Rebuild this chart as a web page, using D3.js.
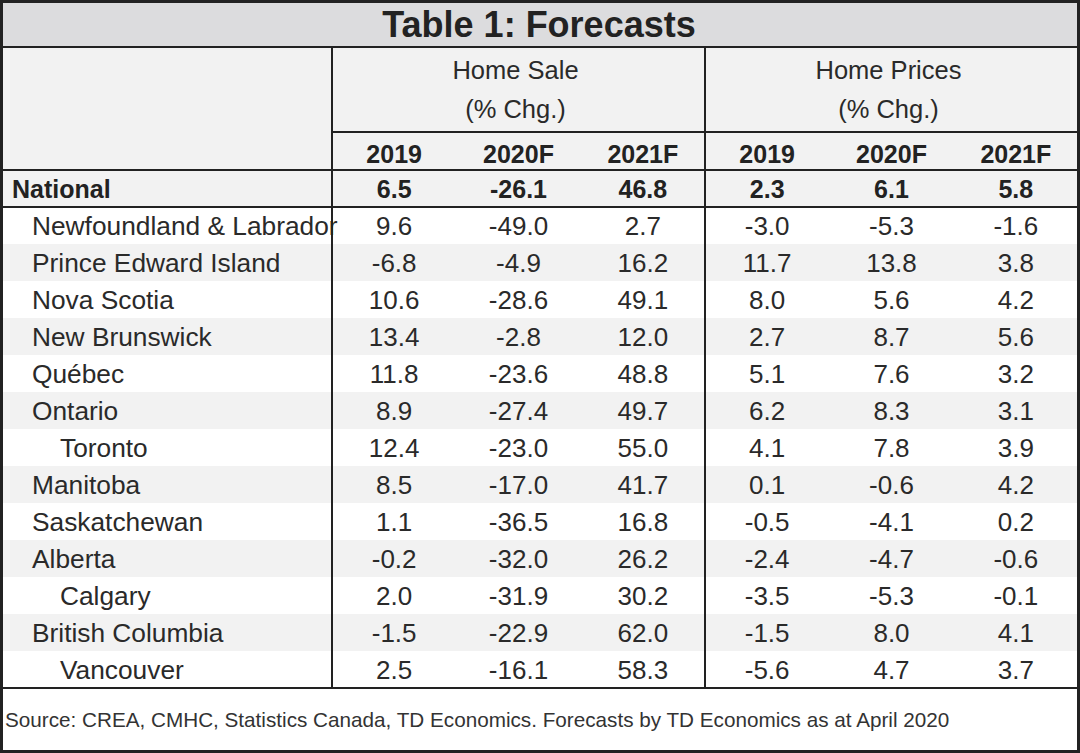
<!DOCTYPE html>
<html>
<head>
<meta charset="utf-8">
<script src="https://cdn.jsdelivr.net/npm/d3@7"></script>
<style>
  html, body { margin: 0; padding: 0; background: #fff; }
  svg { display: block; }
  text { font-family: "Liberation Sans", Arial, sans-serif; }
</style>
</head>
<body>
<svg width="1080" height="753"></svg>
<script>
// table content
const title = "Table 1: Forecasts";
const groups = ["Home Sale", "Home Prices"];
const groupSub = "(% Chg.)";
const years = ["2019", "2020F", "2021F"];
const regions = ["National", "Newfoundland & Labrador", "Prince Edward Island", "Nova Scotia",
  "New Brunswick", "Québec", "Ontario", "Toronto", "Manitoba", "Saskatchewan", "Alberta",
  "Calgary", "British Columbia", "Vancouver"];
const indent = [0, 1, 1, 1, 1, 1, 1, 2, 1, 1, 1, 2, 1, 2];
const sale2019 = ["6.5", "9.6", "-6.8", "10.6", "13.4", "11.8", "8.9", "12.4", "8.5", "1.1", "-0.2", "2.0", "-1.5", "2.5"];
const sale2020 = ["-26.1", "-49.0", "-4.9", "-28.6", "-2.8", "-23.6", "-27.4", "-23.0", "-17.0", "-36.5", "-32.0", "-31.9", "-22.9", "-16.1"];
const sale2021 = ["46.8", "2.7", "16.2", "49.1", "12.0", "48.8", "49.7", "55.0", "41.7", "16.8", "26.2", "30.2", "62.0", "58.3"];
const price2019 = ["2.3", "-3.0", "11.7", "8.0", "2.7", "5.1", "6.2", "4.1", "0.1", "-0.5", "-2.4", "-3.5", "-1.5", "-5.6"];
const price2020 = ["6.1", "-5.3", "13.8", "5.6", "8.7", "7.6", "8.3", "7.8", "-0.6", "-4.1", "-4.7", "-5.3", "8.0", "4.7"];
const price2021 = ["5.8", "-1.6", "3.8", "4.2", "5.6", "3.2", "3.1", "3.9", "4.2", "0.2", "-0.6", "-0.1", "4.1", "3.7"];
const source = "Source: CREA, CMHC, Statistics Canada, TD Economics. Forecasts by TD Economics as at April 2020";

const columns = [sale2019, sale2020, sale2021, price2019, price2020, price2021];
const colKeys = d3.range(columns.length);

const svg = d3.select("svg");
const W = 1080, H = 753;
const lineColor = "#222";
const textColor = "#2a2a2a";

const titleBottom = 47;
const subHeadLine = 132;
const bodyTop = 170;
const bodyBottom = 688;
const labelRight = 332;
const tableRight = 1078;

const y = d3.scaleBand().domain(d3.range(regions.length)).range([bodyTop, bodyBottom]);
const x = d3.scaleBand().domain(colKeys).range([labelRight, tableRight]);
const groupX = d3.scaleBand().domain(d3.range(groups.length)).range([labelRight, tableRight]);

// backgrounds
svg.append("rect").attr("x", 0).attr("y", 0).attr("width", W).attr("height", titleBottom).attr("fill", "#dcdcde");
svg.append("rect").attr("x", 0).attr("y", titleBottom).attr("width", W).attr("height", bodyTop - titleBottom).attr("fill", "#f2f2f2");

svg.append("g").selectAll("rect")
  .data(regions)
  .join("rect")
  .attr("x", 0)
  .attr("y", (d, i) => y(i))
  .attr("width", W)
  .attr("height", y.bandwidth())
  .attr("fill", (d, i) => (i % 2 === 0 ? "#f2f2f2" : "#ffffff"));

// title
svg.append("text")
  .attr("x", W / 2 - 1).attr("y", 37)
  .attr("text-anchor", "middle")
  .attr("font-size", 36).attr("font-weight", "bold")
  .attr("fill", "#222")
  .text(title);

// group headers
const gh = svg.append("g").selectAll("g").data(groups).join("g");
gh.append("text")
  .attr("x", (d, i) => groupX(i) + groupX.bandwidth() / 2 - 3)
  .attr("y", 79)
  .attr("text-anchor", "middle").attr("font-size", 25.5).attr("fill", textColor)
  .text(d => d);
gh.append("text")
  .attr("x", (d, i) => groupX(i) + groupX.bandwidth() / 2 - 3)
  .attr("y", 118)
  .attr("text-anchor", "middle").attr("font-size", 25.5).attr("fill", textColor)
  .text(groupSub);

// year headers
svg.append("g").selectAll("text")
  .data(colKeys)
  .join("text")
  .attr("x", d => x(d) + x.bandwidth() / 2)
  .attr("y", 163)
  .attr("text-anchor", "middle").attr("font-size", 25).attr("font-weight", "bold").attr("fill", "#222")
  .text(d => years[d % 3]);

// row labels
svg.append("g").selectAll("text")
  .data(regions)
  .join("text")
  .attr("x", (d, i) => [12, 32, 60][indent[i]])
  .attr("y", (d, i) => y(i) + 28)
  .attr("font-size", (d, i) => (i === 0 ? 25 : 26.3))
  .attr("font-weight", (d, i) => (i === 0 ? "bold" : "normal"))
  .attr("fill", (d, i) => (i === 0 ? "#222" : textColor))
  .text(d => d);

// values
const cells = [];
columns.forEach((col, c) => col.forEach((v, r) => cells.push({ c, r, v })));
svg.append("g").selectAll("text")
  .data(cells)
  .join("text")
  .attr("x", d => x(d.c) + x.bandwidth() / 2)
  .attr("y", d => y(d.r) + 28)
  .attr("text-anchor", "middle")
  .attr("font-size", d => (d.r === 0 ? 25 : 26))
  .attr("font-weight", d => (d.r === 0 ? "bold" : "normal"))
  .attr("fill", d => (d.r === 0 ? "#222" : textColor))
  .text(d => d.v);

// source
svg.append("text")
  .attr("x", 5).attr("y", 727)
  .attr("font-size", 20.7).attr("fill", "#333")
  .text(source);

// grid lines
const lines = svg.append("g").attr("stroke", lineColor).attr("stroke-width", 2);
const hLines = [
  [0, W, titleBottom],
  [labelRight, tableRight, subHeadLine],
  [0, W, bodyTop],
  [0, W, y(1)],
  [0, W, bodyBottom]
];
lines.selectAll("line.h").data(hLines).join("line").attr("class", "h")
  .attr("x1", d => d[0]).attr("x2", d => d[1]).attr("y1", d => d[2]).attr("y2", d => d[2]);
lines.selectAll("line.v").data([labelRight, groupX(1)]).join("line").attr("class", "v")
  .attr("x1", d => d).attr("x2", d => d).attr("y1", titleBottom).attr("y2", bodyBottom);

// outer frame
svg.append("rect")
  .attr("x", 1.5).attr("y", 1.5).attr("width", W - 3).attr("height", H - 3)
  .attr("fill", "none").attr("stroke", lineColor).attr("stroke-width", 3);
</script>
</body>
</html>
